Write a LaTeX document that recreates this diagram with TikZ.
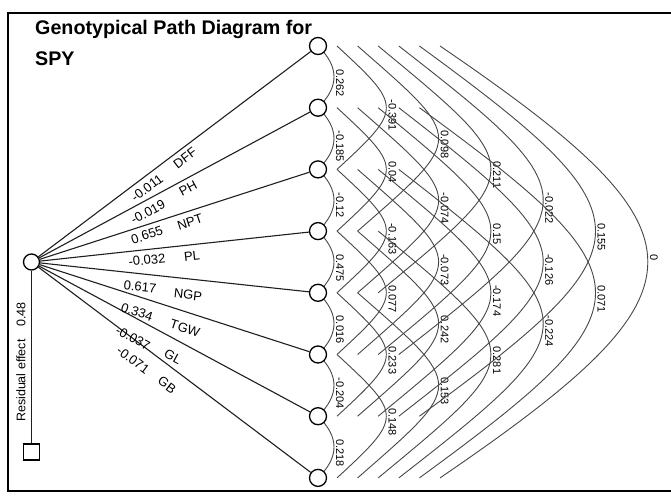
\documentclass[tikz,border=0pt]{standalone}
\usepackage{fontspec}
\setmainfont{Liberation Sans}
\pgfdeclarelayer{bg}
\pgfsetlayers{bg,main}
\begin{document}
\begin{tikzpicture}[x=1pt,y=-1pt,
  pnode/.style={circle,draw=black,line width=1.3pt,fill=white,minimum size=17pt,inner sep=0pt},
  snode/.style={rectangle,draw=black,line width=1.2pt,fill=white,minimum size=16pt,inner sep=0pt},
  corr/.style={font=\fontsize{11}{11}\selectfont,rotate=-90,anchor=west,inner sep=0pt},
  plab/.style={font=\fontsize{13}{13}\selectfont,inner sep=0pt},
  arcline/.style={draw=black!72,line width=0.9pt},
  pline/.style={draw=black!88,line width=1.1pt}]
\useasboundingbox (0,0) rectangle (671,495);
\draw[line width=2pt] (690,491) -- (8,491) -- (8,13) -- (690,13);
% title
\node[anchor=base west,font=\bfseries\fontsize{19.7}{19.7}\selectfont,inner sep=0pt] (t1) at (35,35) {Genotypical Path Diagram for};
\node[anchor=base west,font=\bfseries\fontsize{19.7}{19.7}\selectfont,inner sep=0pt] (t2) at (35,65) {SPY};
% nodes
\foreach \k in {1,...,8} {
  \node[pnode] (n\k) at (318,{46+61.7*(\k-1)}) {};
}
\node[pnode,minimum size=16pt] (L) at (31.5,262) {};
\node[snode] (S) at (31.5,452) {};
% correlation arcs
\begin{pgfonlayer}{bg}
\foreach \i/\j/\v in {1/2/0.262, 2/3/-0.185, 3/4/-0.12, 4/5/0.475, 5/6/0.016, 6/7/-0.204, 7/8/0.218,
  1/3/-0.391, 2/4/0.04, 3/5/-0.163, 4/6/0.077, 5/7/0.233, 6/8/0.148,
  1/4/0.098, 2/5/-0.074, 3/6/-0.073, 4/7/0.242, 5/8/0.153,
  1/5/0.211, 2/6/0.15, 3/7/-0.174, 4/8/0.281,
  1/6/-0.022, 2/7/-0.126, 3/8/-0.224,
  1/7/0.155, 2/8/0.071,
  1/8/0} {
  \pgfmathsetmacro{\d}{\j-\i}
  \pgfmathsetmacro{\xo}{\d==1 ? 0 : 19+20.6*(\d-2)}
  \pgfmathsetmacro{\ap}{16+52.3*(\d-1)}
  \pgfmathsetmacro{\a}{(\ap-\xo)/0.75}
  \pgfmathsetmacro{\b}{\a*(0.97-0.048*(\d-1))}
  \pgfmathsetmacro{\lx}{340+52.3*(\d-1)}
  \pgfmathsetmacro{\ly}{46+61.7*((\i+\j)/2-1)-8}
  \draw[arcline] ([xshift=\xo pt]n\i.center) .. controls +(\a,\b) and +(\a,-\b) .. ([xshift=\xo pt]n\j.center);
  \node[corr] (c\i\j) at (\lx,\ly) {\v};
}
\end{pgfonlayer}
% path lines
\foreach \k in {1,...,8} {
  \draw[pline] (L) -- (n\k);
}
\draw[pline] (L) -- (S);
% path labels
\foreach \k/\v/\nm/\vx/\vy/\nx/\ny/\an in {
  1/-0.011/DFF/147/188/185/158/37,
  2/-0.019/PH/148/212/188/188/28.3,
  3/0.655/NPT/147/235/190/222/17.9,
  4/-0.032/PL/147/260/192/256/6.2,
  5/0.617/NGP/140/287/188/295/-6.1,
  6/0.334/TGW/137/312/185/328/-17.9,
  7/-0.037/GL/133/338/173/357/-28.3,
  8/-0.071/GB/133/360/167/385/-37} {
  \node[plab,rotate=\an] (v\k) at (\vx,\vy) {\v};
  \node[plab,rotate=\an] (m\k) at (\nx,\ny) {\nm};
}
\node[rotate=90,font=\fontsize{12.5}{12.5}\selectfont,inner sep=0pt] (res) at (21,362) {Residual effect\hspace{13pt}0.48};
\end{tikzpicture}
\end{document}
